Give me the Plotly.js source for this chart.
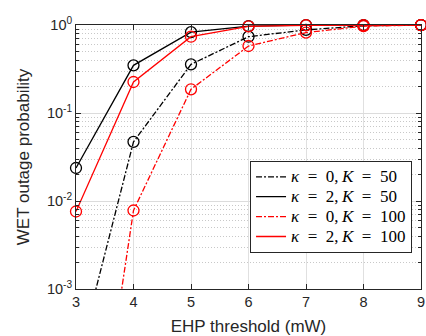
<!DOCTYPE html>
<html>
<head>
<meta charset="utf-8">
<script src="https://cdn.plot.ly/plotly-3.0.1.min.js"></script>
<style>html,body{margin:0;padding:0;background:#fff;}#chart{width:426px;height:336px;}</style>
</head>
<body>
<div id="chart"></div>
<script>
const xThreshold = [3, 4, 5, 6, 7, 8, 9];
const k0K50 = [1.3e-4, 0.047, 0.357, 0.736, 0.88, 0.98, 0.999];
const k2K50 = [0.0237, 0.348, 0.83, 0.97, 0.995, 0.999, 0.999];
const k0K100 = [3.5e-7, 0.0078, 0.186, 0.577, 0.82, 0.97, 0.999];
const k2K100 = [0.0076, 0.225, 0.736, 0.965, 0.993, 0.999, 0.999];
const kappaVals = ['0', '2', '0', '2'];
const KVals = ['50', '50', '100', '100'];
const yTickVals = [0.001, 0.01, 0.1, 1];
const yTickText = ['10<sup>-3</sup>', '10<sup>-2</sup>', '10<sup>-1</sup>', '10<sup>0</sup>'];
const xTickVals = [3, 4, 5, 6, 7, 8, 9];

const seriesY = [k0K50, k2K50, k0K100, k2K100];
const colors = ['#000000', '#000000', '#ff0000', '#ff0000'];
const dashes = ['6px,2px,2px,2px', 'solid', '6px,2px,2px,2px', 'solid'];
const sp = '\u2002';
const seriesNames = kappaVals.map((k, i) =>
  '<span style="font-size:17px">' + '<i>κ</i>' + sp + '=' + sp + k + ',\u2009<i>K</i>' + sp + '=' + sp + KVals[i] + '</span>');

const traces = [];
seriesY.forEach((ys, i) => {
  traces.push({
    x: xThreshold, y: ys, mode: 'lines+markers', showlegend: false,
    cliponaxis: false,
    line: {color: colors[i], width: 1.3, dash: dashes[i]},
    marker: {symbol: 'circle-open', size: 11, color: colors[i], line: {width: 1.3, color: colors[i]}}
  });
});
seriesY.forEach((ys, i) => {
  traces.push({
    x: [null], y: [null], mode: 'lines', name: seriesNames[i], showlegend: true,
    line: {color: colors[i], width: 1.3, dash: dashes[i]}
  });
});

const layout = {
  width: 426, height: 336,
  margin: {l: 76, r: 5, t: 25, b: 47},
  paper_bgcolor: '#ffffff', plot_bgcolor: '#ffffff',
  font: {family: '"Liberation Sans", Arial, sans-serif', size: 14, color: '#262626'},
  xaxis: {
    range: [3, 9], tickmode: 'array', tickvals: xTickVals,
    showgrid: true, gridcolor: '#e0e0e0', gridwidth: 1,
    ticks: 'inside', ticklen: 5, tickcolor: '#262626',
    showline: true, linecolor: '#262626', linewidth: 1, mirror: 'ticks',
    zeroline: false,
    title: {text: 'EHP threshold (mW)', font: {size: 17, color: '#262626'}, standoff: 13},
    tickfont: {size: 14.5, color: '#262626'}
  },
  yaxis: {
    type: 'log', range: [-3, 0], tickmode: 'array', tickvals: yTickVals, ticktext: yTickText,
    showgrid: true, gridcolor: '#dcdcdc', gridwidth: 1,
    ticks: 'inside', ticklen: 5, tickcolor: '#262626',
    showline: true, linecolor: '#262626', linewidth: 1, mirror: 'ticks',
    zeroline: false,
    minor: {dtick: 'D1', ticks: 'inside', ticklen: 3, tickcolor: '#262626', showgrid: true, gridcolor: '#c8c8c8', griddash: '1px,2px', gridwidth: 1},
    title: {text: 'WET outage probability', font: {size: 17, color: '#262626'}, standoff: 12},
    tickfont: {size: 14.5, color: '#262626'}
  },
  legend: {
    x: 0.974, xanchor: 'right', y: 0.137, yanchor: 'bottom',
    bgcolor: '#ffffff', bordercolor: '#262626', borderwidth: 1,
    font: {family: '"Times New Roman", "Liberation Serif", serif', size: 13, color: '#000000'},
    tracegroupgap: 0
  }
};

Plotly.newPlot('chart', traces, layout, {displayModeBar: false, staticPlot: true});
</script>
</body>
</html>
